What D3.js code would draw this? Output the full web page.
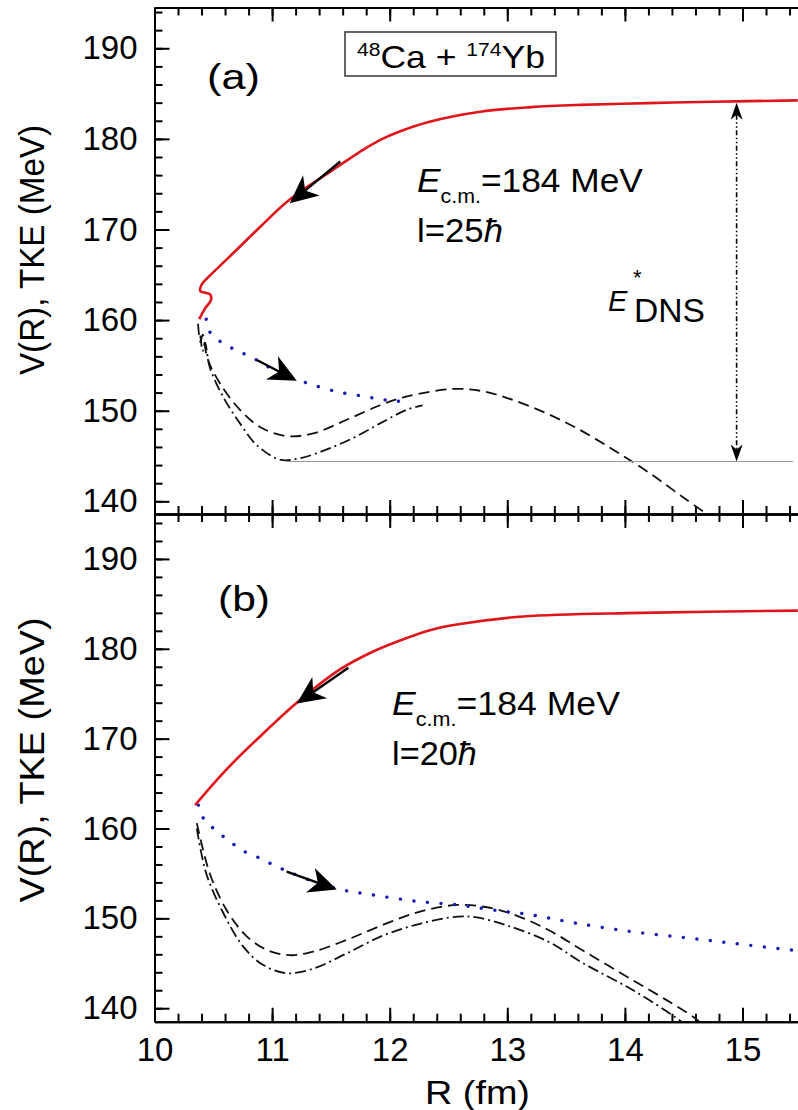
<!DOCTYPE html>
<html>
<head>
<meta charset="utf-8">
<script src="https://cdn.jsdelivr.net/npm/d3@7"></script>
<style>
  body { margin: 0; background: #fff; }
  svg { display: block; }
</style>
</head>
<body>
<script>
const FONT = "'Liberation Sans', Arial, Helvetica, sans-serif";

// tick values
const xTicks = [10, 11, 12, 13, 14, 15];
const yTicks = [140, 150, 160, 170, 180, 190];

// panel (a): l = 25 hbar   [R (fm), V (MeV)]
const redA = [[10.38,160.1],[10.43,161.3],[10.48,162.2],[10.475,162.8],[10.44,163.0],[10.39,163.2],[10.40,163.9],
  [10.47,164.9],[10.55,165.9],[10.67,167.4],[10.90,170.3],[11.15,173.3],[11.52,176.6],[11.80,179.0],[11.92,179.9],
  [12.09,180.85],[12.34,181.9],[12.77,183.0],[13.2,183.5],[13.62,183.75],[14.2,183.95],[14.75,184.1],[15.47,184.25]];
const blueA = [[10.44,160.1],[10.47,158.7],[10.585,157.4],[10.71,156.6],[10.84,155.8],[11.0,154.6],[11.15,153.7],
  [11.31,153.0],[11.55,152.1],[11.80,151.55],[11.92,151.25],[12.05,151.1],[12.16,150.8]];
const dashA = [[10.37,159.6],[10.39,157.6],[10.41,158.4],[10.45,155.8],[10.557,153.0],[10.727,150.1],[10.897,148.2],
  [11.124,147.2],[11.35,147.5],[11.634,149.0],[11.918,150.6],[12.14,151.55],[12.54,152.4],[12.77,152.2],[13.0,151.4],
  [13.3,149.9],[13.6,148.0],[13.9,145.7],[14.2,143.2],[14.5,140.4],[14.75,138.1]];
const dashDotA = [[10.39,158.3],[10.41,156.6],[10.43,157.5],[10.47,154.8],[10.585,151.5],[10.727,148.6],[10.87,146.2],
  [11.067,144.6],[11.237,144.75],[11.46,145.7],[11.69,147.0],[11.918,148.6],[12.145,150.1],[12.28,150.6]];
const minLineA = [[11.12,144.4],[15.43,144.4]];
const eStarArrow = [[14.95,184.0],[14.95,144.4]];
const arrowsA = [[[11.58,177.5],[11.15,172.9]], [[10.87,155.6],[11.21,153.3]]];

// panel (b): l = 20 hbar
const redB = [[10.345,162.6],[10.585,166.2],[10.87,169.9],[11.21,174.0],[11.577,177.7],[11.86,179.7],[12.145,181.2],
  [12.35,182.1],[12.57,182.7],[13.136,183.6],[14.13,184.0],[15.47,184.25]];
const blueB = [[10.373,162.6],[10.415,161.15],[10.53,159.7],[10.656,158.4],[10.77,157.4],[10.897,156.7],[11.01,155.95],
  [11.138,155.2],[11.35,154.1],[11.605,153.15],[11.86,152.6],[12.23,151.9],[12.58,151.5],[12.87,150.95],[13.2,150.4],
  [13.59,149.45],[14.07,148.5],[14.55,147.8],[15.0,147.1],[15.47,146.4]];
const dashB = [[10.36,160.6],[10.47,155.0],[10.614,150.9],[10.784,148.0],[10.954,146.5],[11.15,145.9],[11.35,146.3],
  [11.634,147.6],[11.946,149.3],[12.258,150.75],[12.58,151.5],[12.88,151.1],[13.1,150.2],[13.35,148.7],[13.646,146.4],
  [14.07,143.1],[14.355,140.9],[14.58,139.05],[14.65,138.3]];
const dashDotB = [[10.36,160.0],[10.44,155.0],[10.585,150.6],[10.755,146.85],[10.925,144.8],[11.124,143.9],[11.35,144.4],
  [11.634,146.1],[11.946,148.1],[12.258,149.4],[12.58,150.2],[12.74,150.1],[13.0,149.2],[13.35,147.4],[13.646,145.0],
  [14.07,142.0],[14.44,138.9],[14.5,138.3]];
const arrowsB = [[[11.648,177.9],[11.21,173.9]], [[11.124,155.2],[11.55,153.2]]];

const W = 798, H = 1110;
const svg = d3.select("body").append("svg").attr("width", W).attr("height", H);

const x = d3.scaleLinear().domain([10, 15.472]).range([154.5, 798]);
const yA = d3.scaleLinear().domain([138.6, 194.5]).range([514, 7.5]);
const yB = d3.scaleLinear().domain([138.5, 195.0]).range([1021.7, 514]);

const defs = svg.append("defs");
function clip(id, y) {
  defs.append("clipPath").attr("id", id).append("rect")
    .attr("x", x.range()[0]).attr("y", y.range()[1])
    .attr("width", x.range()[1] - x.range()[0]).attr("height", y.range()[0] - y.range()[1]);
}
clip("clipA", yA);
clip("clipB", yB);

function styleAxis(g) {
  g.selectAll("line").attr("stroke", "#000").attr("stroke-width", 2);
  g.select(".domain").attr("stroke", "#000").attr("stroke-width", 2);
  g.selectAll("text").attr("font-size", 33).attr("fill", "#000").attr("font-family", FONT);
}

function axes(y, withXLabels) {
  const top = y.range()[1], bottom = y.range()[0];
  const minorX = d3.range(10, 15.5, 0.2);
  const minorY = d3.range(140, 195, 2);
  // left
  svg.append("g").attr("transform", `translate(${x.range()[0]},0)`)
    .call(d3.axisLeft(y).tickValues(minorY).tickFormat("").tickSizeInner(-8).tickSizeOuter(0))
    .call(styleAxis);
  svg.append("g").attr("transform", `translate(${x.range()[0]},0)`)
    .call(d3.axisLeft(y).tickValues(yTicks).tickFormat(d3.format("d")).tickSizeInner(-15).tickSizeOuter(0).tickPadding(17))
    .call(styleAxis);
  // top
  svg.append("g").attr("transform", `translate(0,${top})`)
    .call(d3.axisTop(x).tickValues(minorX).tickFormat("").tickSizeInner(-8).tickSizeOuter(0))
    .call(styleAxis);
  svg.append("g").attr("transform", `translate(0,${top})`)
    .call(d3.axisTop(x).tickValues(xTicks).tickFormat("").tickSizeInner(-14).tickSizeOuter(0))
    .call(styleAxis);
  // bottom
  svg.append("g").attr("transform", `translate(0,${bottom})`)
    .call(d3.axisBottom(x).tickValues(minorX).tickFormat("").tickSizeInner(-8).tickSizeOuter(0))
    .call(styleAxis);
  svg.append("g").attr("transform", `translate(0,${bottom})`)
    .call(d3.axisBottom(x).tickValues(xTicks).tickFormat(withXLabels ? d3.format("d") : "")
      .tickSizeInner(-14).tickSizeOuter(0).tickPadding(16))
    .call(styleAxis);
}

function lineGen(y) {
  return d3.line().x(d => x(d[0])).y(d => y(d[1])).curve(d3.curveCatmullRom.alpha(0.5));
}

function curves(y, clipId, red, blue, dash, dashDot) {
  const g = svg.append("g").attr("clip-path", `url(#${clipId})`);
  const line = lineGen(y);
  g.append("path").datum(dash).attr("d", line).attr("fill", "none")
    .attr("stroke", "#111").attr("stroke-width", 1.8).attr("stroke-dasharray", "11 6");
  g.append("path").datum(dashDot).attr("d", line).attr("fill", "none")
    .attr("stroke", "#111").attr("stroke-width", 1.8).attr("stroke-dasharray", "11 4 2 4");
  g.append("path").datum(blue).attr("d", line).attr("fill", "none")
    .attr("stroke", "#1c1cb4").attr("stroke-width", 3.4).attr("stroke-linecap", "round")
    .attr("stroke-dasharray", "0.1 13.5");
  g.append("path").datum(red).attr("d", line).attr("fill", "none")
    .attr("stroke", "#e0151b").attr("stroke-width", 2.6);
  return g;
}

function arrows(y, list) {
  list.forEach(([s, e]) => {
    const x0 = x(s[0]), y0 = y(s[1]), x1 = x(e[0]), y1 = y(e[1]);
    const ang = Math.atan2(y1 - y0, x1 - x0);
    const len = Math.hypot(x1 - x0, y1 - y0);
    const g = svg.append("g").attr("transform", `translate(${x1},${y1}) rotate(${ang * 180 / Math.PI})`);
    g.append("line").attr("x1", -len).attr("y1", 0).attr("x2", -19).attr("y2", 0)
      .attr("stroke", "#000").attr("stroke-width", 2.4);
    g.append("path").attr("d", "M0,0 L-28,-13 L-20,0 L-28,13 Z").attr("fill", "#000");
  });
}

// fit a text's horizontal extent to [x0, x0 + w]
function fit(sel, x0, w) {
  const b = sel.node().getBBox();
  const s = w / b.width;
  sel.attr("transform", `translate(${x0},0) scale(${s},1) translate(${-b.x},0)`);
}

axes(yA, false);
axes(yB, true);

// panel (a) extras
const gA = curves(yA, "clipA", redA, blueA, dashA, dashDotA);
gA.append("path").datum(minLineA).attr("d", d3.line().x(d => x(d[0])).y(d => yA(d[1])))
  .attr("stroke", "#9a9a9a").attr("stroke-width", 1.1).attr("fill", "none");
{
  const ax = x(eStarArrow[0][0]), yt = yA(eStarArrow[0][1]), yb = yA(eStarArrow[1][1]);
  svg.append("line").attr("x1", ax).attr("x2", ax).attr("y1", yt + 12).attr("y2", yb - 12)
    .attr("stroke", "#000").attr("stroke-width", 1.6).attr("stroke-dasharray", "5 2.5 1.5 2.5 1.5 2.5");
  svg.append("path").attr("d", `M${ax},${yt} L${ax - 6},${yt + 17} L${ax},${yt + 12} L${ax + 6},${yt + 17} Z`).attr("fill", "#000");
  svg.append("path").attr("d", `M${ax},${yb} L${ax - 6},${yb - 17} L${ax},${yb - 12} L${ax + 6},${yb - 17} Z`).attr("fill", "#000");
}
arrows(yA, arrowsA);

const gB = curves(yB, "clipB", redB, blueB, dashB, dashDotB);
arrows(yB, arrowsB);

// texts
const T = (xp, yp, size) => svg.append("text").attr("x", xp).attr("y", yp)
  .attr("font-family", FONT).attr("font-size", size).attr("fill", "#000");

fit(T(0, 89, 36).text("(a)"), 207, 53);
fit(T(0, 611, 36).text("(b)"), 218, 52);

// reaction box
svg.append("rect").attr("x", 345).attr("y", 32).attr("width", 211).attr("height", 44)
  .attr("fill", "none").attr("stroke", "#333").attr("stroke-width", 1.5);
{
  const t = T(0, 68, 32);
  t.append("tspan").attr("font-size", 19).attr("dy", -12).text("48");
  t.append("tspan").attr("dy", 12).text("Ca + ");
  t.append("tspan").attr("font-size", 19).attr("dy", -12).text("174");
  t.append("tspan").attr("dy", 12).text("Yb");
  fit(t, 357, 188);
}

function ecm(x0, base, w, lText, lw) {
  const t = T(0, base, 33);
  t.append("tspan").attr("font-style", "italic").text("E");
  t.append("tspan").attr("font-size", 20).attr("dy", 11).text("c.m.");
  t.append("tspan").attr("dy", -11).text("=184 MeV");
  fit(t, x0, w);
  const l = T(0, base + 50, 33);
  l.append("tspan").text(lText);
  l.append("tspan").attr("font-style", "italic").text("ħ");
  fit(l, x0, lw);
}
ecm(417, 192, 226, "l=25", 86);
ecm(392, 715, 228, "l=20", 85);

// E*_DNS
T(608, 311, 29).attr("font-style", "italic").text("E");
T(633, 285, 22).text("*");
fit(T(0, 321.7, 33).text("DNS"), 634, 71);

// axis titles
[[250, 250], [760, 285]].forEach(([cy, len]) => {
  svg.append("text")
    .attr("transform", `translate(44,${cy}) rotate(-90)`)
    .attr("text-anchor", "middle").attr("font-family", FONT).attr("font-size", 35)
    .attr("textLength", len).attr("lengthAdjust", "spacingAndGlyphs")
    .text("V(R), TKE (MeV)");
});
fit(T(0, 1104, 33).text("R (fm)"), 425, 105);
</script>
</body>
</html>
